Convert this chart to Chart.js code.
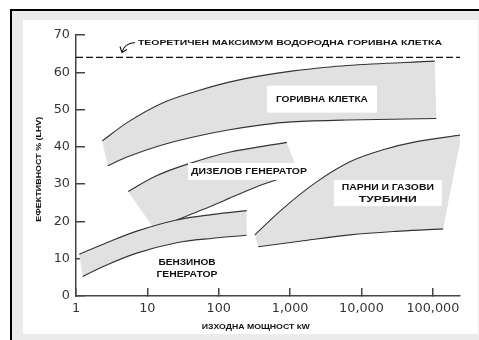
<!DOCTYPE html>
<html>
<head>
<meta charset="utf-8">
<script src="https://cdn.jsdelivr.net/npm/chart.js@4.4.1/dist/chart.umd.min.js"></script>
<style>
  html, body { margin: 0; padding: 0; background: #fff; }
  canvas { display: block; }
</style>
</head>
<body>
<canvas id="effChart" width="479" height="340"></canvas>
<script>
// Axis ticks
const xTicks = [1, 10, 100, 1000, 10000, 100000];
const yTicks = [0, 10, 20, 30, 40, 50, 60, 70];
const xMax = 240000;
const theoreticalMax = 64;

// Fuel cell band (kW, efficiency %)
const fuelTopKw = [2.33, 5.4, 16, 46, 135, 400, 1050, 6250, 106000];
const fuelTopEff = [41.6, 46.7, 51.7, 54.8, 57.3, 59.1, 60.3, 61.8, 63];
const fuelBotKw = [2.78, 5.4, 16, 46, 135, 400, 1050, 6250, 112000];
const fuelBotEff = [34.9, 37.4, 40.5, 42.7, 44.5, 45.9, 46.7, 47.2, 47.6];

// Diesel generator band
const dieselTopKw = [5.39, 12.5, 35.5, 135, 900];
const dieselTopEff = [28, 32, 35.3, 38.5, 41.2];
const dieselBotKw = [25.7, 60, 177, 420, 1300];
const dieselBotEff = [20.4, 23.2, 27, 30, 33];
const dieselEdgeKw = [12.1];
const dieselEdgeEff = [18.3];

// Gasoline generator band
const gasTopKw = [1.11, 2.4, 7.1, 25.7, 84, 246];
const gasTopEff = [11.2, 13.9, 17.4, 20.4, 21.9, 22.9];
const gasBotKw = [1.24, 2.4, 7.1, 25.7, 84, 246];
const gasBotEff = [5.2, 7.9, 11.5, 14.3, 15.5, 16.3];

// Steam and gas turbines band
const turbTopKw = [321, 800, 2350, 6900, 20000, 59000, 252000];
const turbTopEff = [16.4, 23.5, 30.6, 36, 39.2, 41.4, 43.2];
const turbBotKw = [357, 1370, 6900, 34500, 139000];
const turbBotEff = [13.2, 14.7, 16.4, 17.4, 18];

const pts = (kw, eff) => kw.map((x, i) => ({ x: x, y: eff[i] }));

// closed outline from several pieces, corners doubled so the spline stays sharp there
function outline(...pieces) {
  const out = [];
  pieces.forEach((p, i) => {
    if (i > 0) out.push(p[0]);
    out.push(...p);
    if (i < pieces.length - 1) out.push(p[p.length - 1]);
  });
  return out;
}

const BAND = "#e1e1e1";
const EDGE = "#333";
const TENSION = 0.35;

function band(data) {
  return { data: data, fill: "shape", backgroundColor: BAND, borderColor: "rgba(0,0,0,0)",
    borderWidth: 0, pointRadius: 0, tension: TENSION, order: 2 };
}
function curve(data) {
  return { data: data, fill: false, borderColor: EDGE, borderWidth: 1.1,
    pointRadius: 0, tension: TENSION, order: 1 };
}

const datasets = [
  band(outline(pts(fuelTopKw, fuelTopEff), pts(fuelBotKw, fuelBotEff).reverse())),
  band(outline(pts(dieselTopKw, dieselTopEff), pts(dieselBotKw, dieselBotEff).reverse(), pts(dieselEdgeKw, dieselEdgeEff))),
  band(outline(pts(gasTopKw, gasTopEff), pts(gasBotKw, gasBotEff).reverse())),
  band(outline(pts(turbTopKw, turbTopEff), pts(turbBotKw, turbBotEff).reverse())),
  curve(pts(fuelTopKw, fuelTopEff)),
  curve(pts(fuelBotKw, fuelBotEff)),
  curve(pts(dieselTopKw, dieselTopEff)),
  curve(pts(dieselBotKw, dieselBotEff)),
  curve(pts(gasTopKw, gasTopEff)),
  curve(pts(gasBotKw, gasBotEff)),
  curve(pts(turbTopKw, turbTopEff)),
  curve(pts(turbBotKw, turbBotEff)),
  {
    data: [{ x: xTicks[0], y: theoreticalMax }, { x: xMax, y: theoreticalMax }],
    fill: false, borderColor: "#111", borderWidth: 1.4, borderDash: [7, 3],
    pointRadius: 0, tension: 0, order: 0
  }
];

// text squeezed or stretched to a given width
function fitText(ctx, text, x, y, size, width, align) {
  ctx.font = "bold " + size + "px 'Liberation Sans', Arial, sans-serif";
  const w = ctx.measureText(text).width;
  ctx.save();
  ctx.translate(x, y);
  ctx.scale(width / w, 1);
  ctx.textAlign = align || "center";
  ctx.textBaseline = "middle";
  ctx.fillStyle = "#111";
  ctx.fillText(text, 0, 0);
  ctx.restore();
}

const bandLabels = [
  { kw: 2790, eff: 52.8, box: [110, 27], lines: [["ГОРИВНА КЛЕТКА", 92]] },
  { kw: 265, eff: 33.4, box: [122, 17], lines: [["ДИЗЕЛОВ ГЕНЕРАТОР", 116]] },
  { kw: 23400, eff: 27.6, box: [108, 26], lines: [["ПАРНИ И ГАЗОВИ", 92], ["ТУРБИНИ", 58]] },
  { kw: 35.9, eff: 7.5, box: [66, 28], lines: [["БЕНЗИНОВ", 57], ["ГЕНЕРАТОР", 61]] }
];

const framePlugin = {
  id: "frame",
  beforeDraw(chart) {
    const c = chart.ctx;
    c.save();
    c.fillStyle = "#fff";
    c.fillRect(0, 0, 479, 340);
    c.fillStyle = "#000";
    c.fillRect(10, 9, 469, 2);
    c.fillRect(10, 9, 2, 331);
    c.fillStyle = "#ebebeb";
    c.fillRect(12, 11, 467, 329);
    c.fillStyle = "#fff";
    c.fillRect(23, 20, 455, 314);
    c.restore();
  }
};

const notesPlugin = {
  id: "notes",
  afterDatasetsDraw(chart) {
    const c = chart.ctx;
    const xs = chart.scales.x, ys = chart.scales.y;
    const area = chart.chartArea;

    bandLabels.forEach((l) => {
      const cx = xs.getPixelForValue(l.kw), cy = ys.getPixelForValue(l.eff);
      c.fillStyle = "#fff";
      c.fillRect(cx - l.box[0] / 2, cy - l.box[1] / 2, l.box[0], l.box[1]);
      const step = 12;
      l.lines.forEach((ln, i) => {
        const ly = cy + (i - (l.lines.length - 1) / 2) * step;
        fitText(c, ln[0], cx, ly, 9.8, ln[1]);
      });
    });

    // theoretical maximum note with curved arrow
    const tx = xs.getPixelForValue(7.38), ty = ys.getPixelForValue(68);
    fitText(c, "ТЕОРЕТИЧЕН МАКСИМУМ ВОДОРОДНА ГОРИВНА КЛЕТКА", tx, ty, 7.5, 304, "left");
    c.save();
    c.strokeStyle = "#111";
    c.lineWidth = 1.1;
    c.beginPath();
    c.moveTo(tx - 3, ty);
    c.quadraticCurveTo(tx - 14, ty + 1, tx - 16, ty + 10);
    c.moveTo(tx - 18, ty + 4);
    c.lineTo(tx - 16, ty + 10);
    c.lineTo(tx - 11, ty + 7);
    c.stroke();
    c.restore();

    // axis titles
    fitText(c, "ИЗХОДНА МОЩНОСТ kW", xs.getPixelForValue(330), area.bottom + 31, 7, 108);
    c.save();
    c.translate(area.left - 37, ys.getPixelForValue(34));
    c.rotate(-Math.PI / 2);
    fitText(c, "ЕФЕКТИВНОСТ % (LHV)", 0, 0, 8, 105);
    c.restore();
  }
};

const tickFont = { family: "'DejaVu Sans', sans-serif", size: 12.8 };

new Chart(document.getElementById("effChart"), {
  type: "line",
  data: { datasets: datasets },
  plugins: [framePlugin, notesPlugin],
  options: {
    responsive: false,
    animation: false,
    devicePixelRatio: 1,
    layout: { padding: { left: 0, top: 35, right: 19, bottom: 0 } },
    plugins: { legend: { display: false }, tooltip: { enabled: false } },
    scales: {
      x: {
        type: "logarithmic",
        min: xTicks[0],
        max: xMax,
        afterBuildTicks: (s) => { s.ticks = xTicks.map((v) => ({ value: v })); },
        afterFit: (s) => { s.height = 44; },
        ticks: {
          callback: (v) => Number(v).toLocaleString("en-US"),
          font: tickFont, color: "#333", padding: 13, maxRotation: 0, autoSkip: false
        },
        grid: { drawOnChartArea: false, tickLength: -8, color: "#444", lineWidth: 1.5 },
        border: { color: "#444", width: 1.5 }
      },
      y: {
        type: "linear",
        min: yTicks[0],
        max: yTicks[yTicks.length - 1],
        afterBuildTicks: (s) => { s.ticks = yTicks.map((v) => ({ value: v })); },
        afterFit: (s) => { s.width = 76; },
        ticks: { font: tickFont, color: "#333", padding: 15 },
        grid: { drawOnChartArea: false, tickLength: -9, color: "#444", lineWidth: 1.5 },
        border: { color: "#444", width: 1.5 }
      }
    }
  }
});
</script>
</body>
</html>
